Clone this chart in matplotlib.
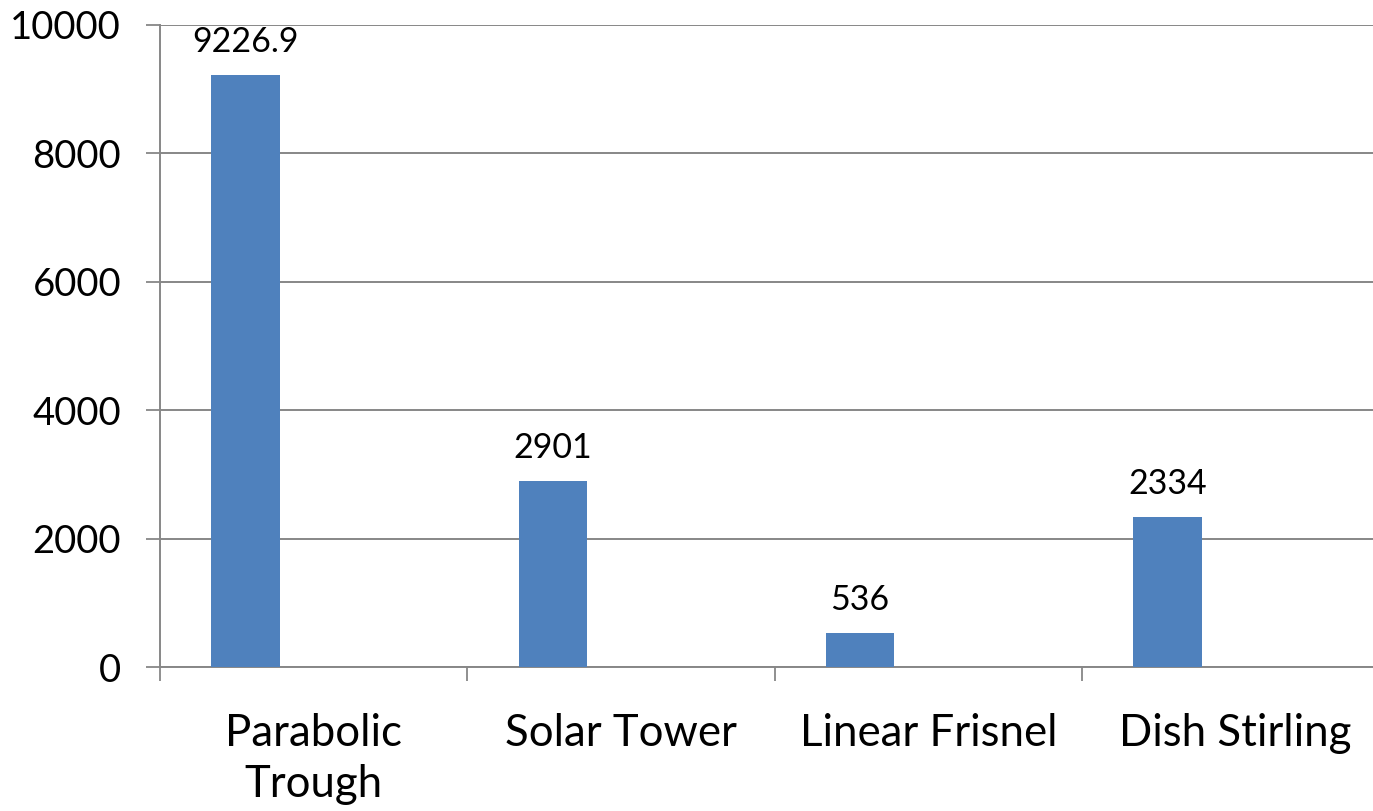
import matplotlib
matplotlib.use("Agg")
import matplotlib.pyplot as plt
import numpy as np

categories = ["Parabolic\nTrough", "Solar Tower", "Linear Frisnel", "Dish Stirling"]
values = [9226.9, 2901, 536, 2334]
value_labels = ["9226.9", "2901", "536", "2334"]
yticks = [0, 2000, 4000, 6000, 8000, 10000]

plt.rcParams['font.family'] = ['Lato', 'DejaVu Sans']

fig = plt.figure(figsize=(13.73, 8.11), dpi=100)
ax = fig.add_axes([160/1373, (811-667)/811, (1389.3-160)/1373, (667-25)/811])

x = np.arange(len(categories))
bw = 0.222
ax.bar(x - bw, values, width=bw, color="#4F81BD", zorder=3)
for xi, v, lab in zip(x, values, value_labels):
    ax.annotate(lab, (xi - bw, v), xytext=(0, 12), textcoords="offset points",
                ha="center", va="bottom", fontsize=24.5, color="black")

ax.set_xlim(-0.5, len(categories) - 0.5)
ax.set_ylim(0, 10000)
ax.set_yticks(yticks)
ax.set_yticklabels([str(t) for t in yticks])
ax.yaxis.grid(True, color="#878787", linewidth=1.4, zorder=0)
ax.set_axisbelow(True)

ax.set_xticks(np.arange(len(categories) + 1) - 0.5)
ax.set_xticklabels([])
ax.set_xticks(x, minor=True)
ax.set_xticklabels(categories, minor=True, fontsize=31.5, linespacing=1.32)
ax.tick_params(axis="x", which="minor", length=0, pad=33)
ax.tick_params(axis="x", which="major", length=10, width=1.3, color="#878787", direction="out")
ax.tick_params(axis="y", length=10, width=1.3, color="#878787", direction="out", labelsize=27.5, pad=18)

for s in ["top", "right"]:
    ax.spines[s].set_visible(False)
for s in ["left", "bottom"]:
    ax.spines[s].set_color("#878787")
    ax.spines[s].set_linewidth(1.4)

fig.savefig("out.png", dpi=100)
